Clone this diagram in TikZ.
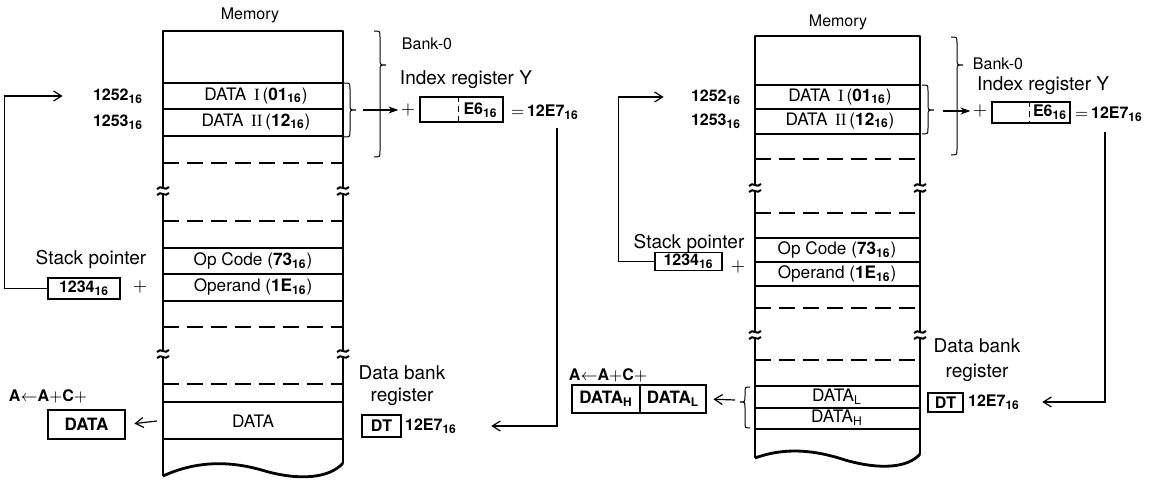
\documentclass[tikz,border=0pt]{standalone}
\usepackage{fontspec}
\setmainfont{TeX Gyre Heros}
\newfontfamily\romnum{Liberation Serif}
\usepackage{tikz}
\usetikzlibrary{arrows.meta,positioning}

% hex value with subscript 16
\newcommand\hexb[1]{\textbf{#1\textsubscript{16}}}
% curly brace: x, top, tip, bottom, depth
\newcommand\brc[5]{\draw[line width=0.5pt] ({#1-(#5)},#2) .. controls (#1,#2) .. (#1,#2+6) -- (#1,#3-6) .. controls (#1,#3) .. ({#1+(#5)},#3) .. controls (#1,#3) .. (#1,#3+6) -- (#1,#4-6) .. controls (#1,#4) .. ({#1-(#5)},#4);}
% break marks on a memory edge
\newcommand\brk[2]{\draw[line width=1pt] ({#1-6},#2-2) .. controls ({#1-2},#2-7) and ({#1+2},#2+1) .. ({#1+6},#2-4) ({#1-6},#2+4) .. controls ({#1-2},#2-1) and ({#1+2},#2+7) .. ({#1+6},#2+2);}

\begin{document}
\begin{tikzpicture}[
    x=0.5pt,y=-0.5pt,
    edge/.style={line width=1.4pt,line join=round},
    cellline/.style={line width=0.7pt},
    gapline/.style={line width=0.7pt,dash pattern=on 8pt off 4pt},
    cell/.style={font=\fontsize{8.6}{9}\selectfont,inner sep=1pt},
    lbl/.style={font=\fontsize{9.5}{11}\selectfont,inner sep=1pt,align=center},
    note/.style={font=\fontsize{8}{9}\selectfont,inner sep=1pt},
    addr/.style={font=\bfseries\fontsize{8}{9}\selectfont,inner sep=1pt},
    reg/.style={draw,line width=0.6pt,font=\bfseries\fontsize{8}{9}\selectfont,inner sep=0pt},
    acc/.style={draw,line width=1.4pt,font=\bfseries\fontsize{8.5}{9}\selectfont,inner sep=0pt},
    arrow/.style={-{Straight Barb[length=4pt,width=5pt]},line width=0.6pt},
    farrow/.style={-{Stealth[length=5pt,width=3.5pt]},line width=0.6pt}
  ]
    \useasboundingbox (0,0) rectangle (1156,480);

    % left memory
    \node[note] (memL) at (250,15) {Memory};
    \draw[edge] (163,476) -- (163,357) (163,351) -- (163,194) (163,188) -- (163,31) -- (343,31) -- (343,188) (343,194) -- (343,351) (343,357) -- (343,463);
    \draw[edge] (163,476) .. controls (198,460) and (232,461) .. (265,471) .. controls (300,481) and (330,478) .. (343,463);
    \brk{163}{191} \brk{343}{191} \brk{163}{354} \brk{343}{354}
    \draw[cellline] (163,83) -- (343,83) (163,109) -- (343,109) (163,136) -- (343,136) (163,248) -- (343,248) (163,274) -- (343,274) (163,301) -- (343,301) (163,402) -- (343,402) (163,439) -- (343,439);
    \draw[gapline] (163,163) -- (343,163) (163,221) -- (343,221) (163,327) -- (343,327) (163,384) -- (343,384);
    \node[cell] (c1L) at (256,96) {DATA \,{\romnum I}\,(\hexb{01})};
    \node[cell] (c2L) at (256,122) {DATA \,{\romnum II}\,(\hexb{12})};
    \node[cell] (opL) at (253,261) {Op Code (\hexb{73})};
    \node[cell] (orL) at (253,287) {Operand (\hexb{1E})};
    \node[cell] (dL) at (253,421) {DATA};

    \node[addr] (a1L) at (118,96) {\hexb{1252}};
    \node[addr] (a2L) at (118,122) {\hexb{1253}};
    \node[lbl] (spnL) at (91,259) {Stack pointer};
    \node[reg,minimum width=36pt,minimum height=10.5pt] (spL) at (84,288.5) {\hexb{1234}};
    \node[lbl] (pl1L) at (140,287) {$+$};
    \node[addr] (accnL) at (48,396) {A$\leftarrow$A$+$C$+$};
    \node[acc,minimum width=38.5pt,minimum height=14.5pt] (accL) at (86.5,424.5) {DATA};

    \brc{380}{31}{65}{157}{6}
    \node[note] (bankL) at (427,44) {Bank-0};
    \node[lbl] (iynL) at (466,80) {Index register Y};
    \brc{350}{83}{110}{137}{6}
    \coordinate (bkL) at (363,110);
    \node[lbl] (pl2L) at (408,110) {$+$};
    \node[reg,minimum width=41.5pt,minimum height=12.5pt] (iyL) at (461.5,109.5) {};
    \draw[line width=0.5pt,densely dashed] ([xshift=-1.75pt]iyL.north) -- ([xshift=-1.75pt]iyL.south);
    \node[addr] (e6L) at (480.5,110) {\hexb{E6}};
    \node[addr] (eqL) at (545,112) {$=$\,\hexb{12E7}};
    \node[lbl] (dbnL) at (402,386) {Data bank\\register};
    \node[reg,minimum width=19.5pt,minimum height=11pt] (dtL) at (381.5,426) {DT};
    \node[addr] (dtvL) at (431,426) {\hexb{12E7}};

    \draw[arrow,shorten >=14pt] (spL.west) -- ++(-43,0) |- (a1L.west);
    \draw[farrow] (bkL) -- (pl2L.west);
    \draw[arrow,shorten <=3pt,shorten >=16pt] ([xshift=6pt]eqL.south) |- (dtvL.east);
    \coordinate (rdL) at (157,421);
    \draw[arrow,shorten >=4pt] (rdL) -- (accL.east);

    % right memory
    \node[note] (memR) at (838,22) {Memory};
    \draw[edge] (755,458) -- (755,338) (755,332) -- (755,191) (755,185) -- (755,36) -- (920,36) -- (920,185) (920,191) -- (920,332) (920,338) -- (920,454);
    \draw[edge] (755,458) .. controls (785,447) and (815,450) .. (845,460) .. controls (880,470) and (908,468) .. (920,454);
    \brk{755}{188} \brk{920}{188} \brk{755}{335} \brk{920}{335}
    \draw[cellline] (755,85) -- (920,85) (755,109) -- (920,109) (755,134) -- (920,134) (755,238) -- (920,238) (755,262) -- (920,262) (755,286) -- (920,286) (755,386) -- (920,386) (755,408) -- (920,408) (755,429) -- (920,429);
    \draw[gapline] (755,159) -- (920,159) (755,213) -- (920,213) (755,308) -- (920,308) (755,360) -- (920,360);
    \node[cell] (c1R) at (840,97) {DATA \,{\romnum I}\,(\hexb{01})};
    \node[cell] (c2R) at (840,121) {DATA \,{\romnum II}\,(\hexb{12})};
    \node[cell] (opR) at (837,250) {Op Code (\hexb{73})};
    \node[cell] (orR) at (837,274) {Operand (\hexb{1E})};
    \node[cell] (dlR) at (837,397) {DATA\textsubscript{L}};
    \node[cell] (dhR) at (837,418) {DATA\textsubscript{H}};

    \node[addr] (a1R) at (716,97) {\hexb{1252}};
    \node[addr] (a2R) at (716,121) {\hexb{1253}};
    \node[lbl] (spnR) at (689,243) {Stack pointer};
    \node[reg,minimum width=33.5pt,minimum height=9pt] (spR) at (688.5,261.5) {\hexb{1234}};
    \node[lbl] (pl1R) at (738,267) {$+$};
    \node[addr] (accnR) at (608,375) {A$\leftarrow$A$+$C$+$};
    \node[acc,minimum width=34pt,minimum height=14pt] (ahR) at (606,399) {DATA\textsubscript{H}};
    \node[acc,minimum width=33pt,minimum height=14pt] (alR) at (673,399) {DATA\textsubscript{L}};
    \brc{745}{387}{402}{428}{-5}
    \coordinate (rdR) at (735,400);

    \brc{957}{37}{65}{155}{6}
    \node[note] (bankR) at (998,64) {Bank-0};
    \node[lbl] (iynR) at (1043,86) {Index register Y};
    \brc{928}{85}{110}{134}{6}
    \coordinate (bkR) at (943,111);
    \node[lbl] (pl2R) at (980,111) {$+$};
    \node[reg,minimum width=39pt,minimum height=10.5pt] (iyR) at (1031,112.5) {};
    \draw[line width=0.5pt,densely dashed] ([xshift=-1pt]iyR.north) -- ([xshift=-1pt]iyR.south);
    \node[addr] (e6R) at (1050,112.5) {\hexb{E6}};
    \node[addr] (eqR) at (1109,114) {$=$\,\hexb{12E7}};
    \node[lbl] (dbnR) at (977,360) {Data bank\\[1.5pt]register};
    \node[reg,minimum width=17.5pt,minimum height=9.5pt] (dtR) at (945.5,402.5) {DT};
    \node[addr] (dtvR) at (994,402) {\hexb{12E7}};

    \draw[arrow,shorten >=12.5pt] (spR.west) -- ++(-36,0) |- (a1R.west);
    \draw[farrow] (bkR) -- (pl2R.west);
    \draw[arrow,shorten <=4pt,shorten >=10pt] ([xshift=-2pt]eqR.south) |- (dtvR.east);
    \draw[arrow,shorten >=3pt] (rdR) -- (alR.east);
  \end{tikzpicture}
\end{document}
